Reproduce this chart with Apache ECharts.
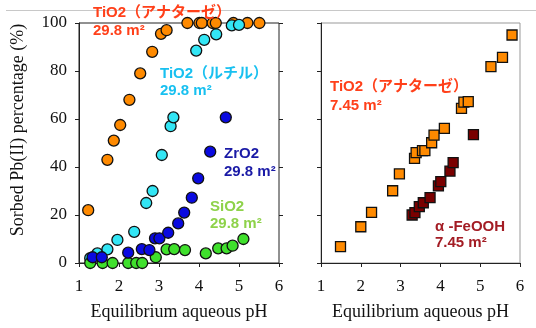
<!DOCTYPE html>
<html>
<head>
<meta charset="utf-8">
<script src="https://cdn.jsdelivr.net/npm/echarts@6/dist/echarts.min.js"></script>
<style>
  html, body { margin: 0; padding: 0; background: #fff; }
  #chart { width: 536px; height: 328px; }
</style>
</head>
<body>
<div id="chart"></div>
<script>
// left panel, 29.8 m2 samples
const anataseL_pH  = [1.23, 1.71, 1.87, 2.03, 2.26, 2.53, 2.83, 3.05, 3.19, 3.71, 4.01, 4.07, 4.34, 4.42, 4.86, 5.21, 5.51];
const anataseL_pct = [22, 43, 51, 57.5, 68, 79, 88, 95.5, 97, 100, 100, 100, 100, 100, 100, 100, 100];
const rutile_pH  = [1.28, 1.46, 1.71, 1.96, 2.38, 2.68, 2.84, 3.07, 3.29, 3.36, 3.93, 4.13, 4.43, 4.82, 5.0];
const rutile_pct = [2, 4, 5.7, 9.6, 13, 25, 30, 45, 57, 60.7, 88.5, 93, 95.3, 99, 99.2];
const zro2_pH  = [1.34, 1.57, 2.23, 2.57, 2.76, 2.9, 3.01, 3.23, 3.48, 3.63, 3.82, 3.98, 4.28, 4.67];
const zro2_pct = [2.4, 2.4, 4.3, 5.8, 5.4, 10.3, 10.3, 12.6, 16.5, 21, 27.2, 35.3, 46.4, 60.7];
const sio2_pH  = [1.28, 1.59, 1.84, 2.23, 2.43, 2.58, 2.92, 3.19, 3.38, 3.65, 4.17, 4.48, 4.69, 4.84, 5.11];
const sio2_pct = [0, 0, 0, 0, 0, 0, 2.4, 5.7, 5.8, 5.4, 4, 6.1, 6.1, 7.2, 10];

// right panel, 7.45 m2 samples
const anataseR_pH  = [1.49, 2.0, 2.27, 2.8, 2.97, 3.35, 3.39, 3.55, 3.61, 3.78, 3.84, 4.10, 4.53, 4.59, 4.70, 5.27, 5.56, 5.80];
const anataseR_pct = [6.8, 15.1, 21.1, 30.1, 37.1, 43.6, 46, 46.8, 46.8, 50.1, 53.3, 56.1, 64.4, 67, 67.2, 81.8, 85.7, 95];
const feooh_pH  = [3.29, 3.36, 3.47, 3.57, 3.74, 3.95, 4.01, 4.24, 4.32, 4.83];
const feooh_pct = [20, 21, 23.5, 25.1, 27.2, 32.1, 33.9, 38.3, 41.8, 53.5];

const xTicks = [1, 2, 3, 4, 5, 6];
const yTicks = [0, 20, 40, 60, 80, 100];

const serif = '"Liberation Serif", "DejaVu Serif", serif';
const sans = '"Liberation Sans", "Noto Sans CJK JP", sans-serif';

const pairs = (xs, ys) => xs.map((x, i) => [x, ys[i]]);

const xAxisBase = (gridIndex) => ({
  type: 'value', gridIndex, min: xTicks[0], max: xTicks[xTicks.length - 1], interval: 1,
  name: 'Equilibrium aqueous pH', nameLocation: 'middle', nameGap: 40,
  nameTextStyle: { fontFamily: serif, fontSize: 18, color: '#111' },
  axisLine: { show: true, lineStyle: { color: '#222', width: 1 } },
  axisTick: { show: true, inside: false, length: 4, lineStyle: { color: '#222' } },
  axisLabel: { fontFamily: serif, fontSize: 17, color: '#111', margin: 15 },
  splitLine: { show: false }
});

const yAxisBase = (gridIndex, labels, position) => ({
  type: 'value', gridIndex, min: yTicks[0], max: yTicks[yTicks.length - 1], interval: 20,
  position: position || 'left',
  axisLine: { show: true, lineStyle: { color: '#222', width: 1 } },
  axisTick: { show: true, inside: false, length: 4, lineStyle: { color: '#222' } },
  axisLabel: { show: labels, fontFamily: serif, fontSize: 17, color: '#111', margin: 12 },
  splitLine: { show: false }
});

const dots = (name, data, color, symbol, size, xi, yi) => ({
  name, type: 'scatter', data, xAxisIndex: xi, yAxisIndex: yi,
  symbol, symbolSize: size,
  itemStyle: { color, borderColor: '#111', borderWidth: 1.3, opacity: 1 },
  emphasis: { disabled: true }
});

const lbl = (x, y, text, color) => ({
  type: 'text', x, y, z: 10,
  style: { text, fill: color, font: 'bold 15px ' + sans, textVerticalAlign: 'middle' }
});

const chart = echarts.init(document.getElementById('chart'), null, { renderer: 'canvas' });
chart.setOption({
  animation: false,
  backgroundColor: '#fff',
  grid: [
    { left: 79, top: 23, width: 200, height: 240, show: true, borderColor: '#222', borderWidth: 1 },
    { left: 321, top: 23, width: 199, height: 240, show: true, borderColor: '#999', borderWidth: 1 }
  ],
  xAxis: [xAxisBase(0), xAxisBase(1)],
  yAxis: [
    yAxisBase(0, true),
    Object.assign(yAxisBase(0, false, 'right'), { axisLine: { show: false } }),
    yAxisBase(1, false)
  ],
  series: [
    dots('TiO2 anatase 29.8', pairs(anataseL_pH, anataseL_pct), '#ff8a00', 'circle', 11, 0, 0),
    dots('TiO2 rutile 29.8', pairs(rutile_pH, rutile_pct), '#33e6f5', 'circle', 11, 0, 0),
    dots('SiO2 29.8', pairs(sio2_pH, sio2_pct), '#3fe02c', 'circle', 11, 0, 0),
    dots('ZrO2 29.8', pairs(zro2_pH, zro2_pct), '#0a0ae0', 'circle', 11, 0, 0),
    dots('TiO2 anatase 7.45', pairs(anataseR_pH, anataseR_pct), '#ff8a00', 'rect', 10, 1, 2),
    dots('α-FeOOH 7.45', pairs(feooh_pH, feooh_pct), '#7a0000', 'rect', 10, 1, 2)
  ],
  graphic: [
    { type: 'line', z: 0, shape: { x1: 6, y1: 10.5, x2: 536, y2: 10.5 }, style: { stroke: '#c8c8c8', lineWidth: 1 } },
    {
      type: 'text', x: 18, y: 130, rotation: Math.PI / 2,
      style: { text: 'Sorbed Pb(II) percentage (%)', fill: '#111', font: '18px ' + serif, textAlign: 'center', textVerticalAlign: 'middle' }
    },
    lbl(93, 13, 'TiO2（アナターゼ）', '#ff401a'),
    lbl(93, 31, '29.8 m²', '#ff401a'),
    lbl(160, 74, 'TiO2（ルチル）', '#18c0f0'),
    lbl(160, 91, '29.8 m²', '#18c0f0'),
    lbl(224, 154, 'ZrO2', '#1a1aa6'),
    lbl(224, 172, '29.8 m²', '#1a1aa6'),
    lbl(210, 207, 'SiO2', '#8ed24a'),
    lbl(210, 224, '29.8 m²', '#8ed24a'),
    lbl(330, 87, 'TiO2（アナターゼ）', '#ff401a'),
    lbl(330, 106, '7.45 m²', '#ff401a'),
    lbl(435, 227, 'α -FeOOH', '#a31c24'),
    lbl(435, 243, '7.45 m²', '#a31c24')
  ]
});
</script>
</body>
</html>
